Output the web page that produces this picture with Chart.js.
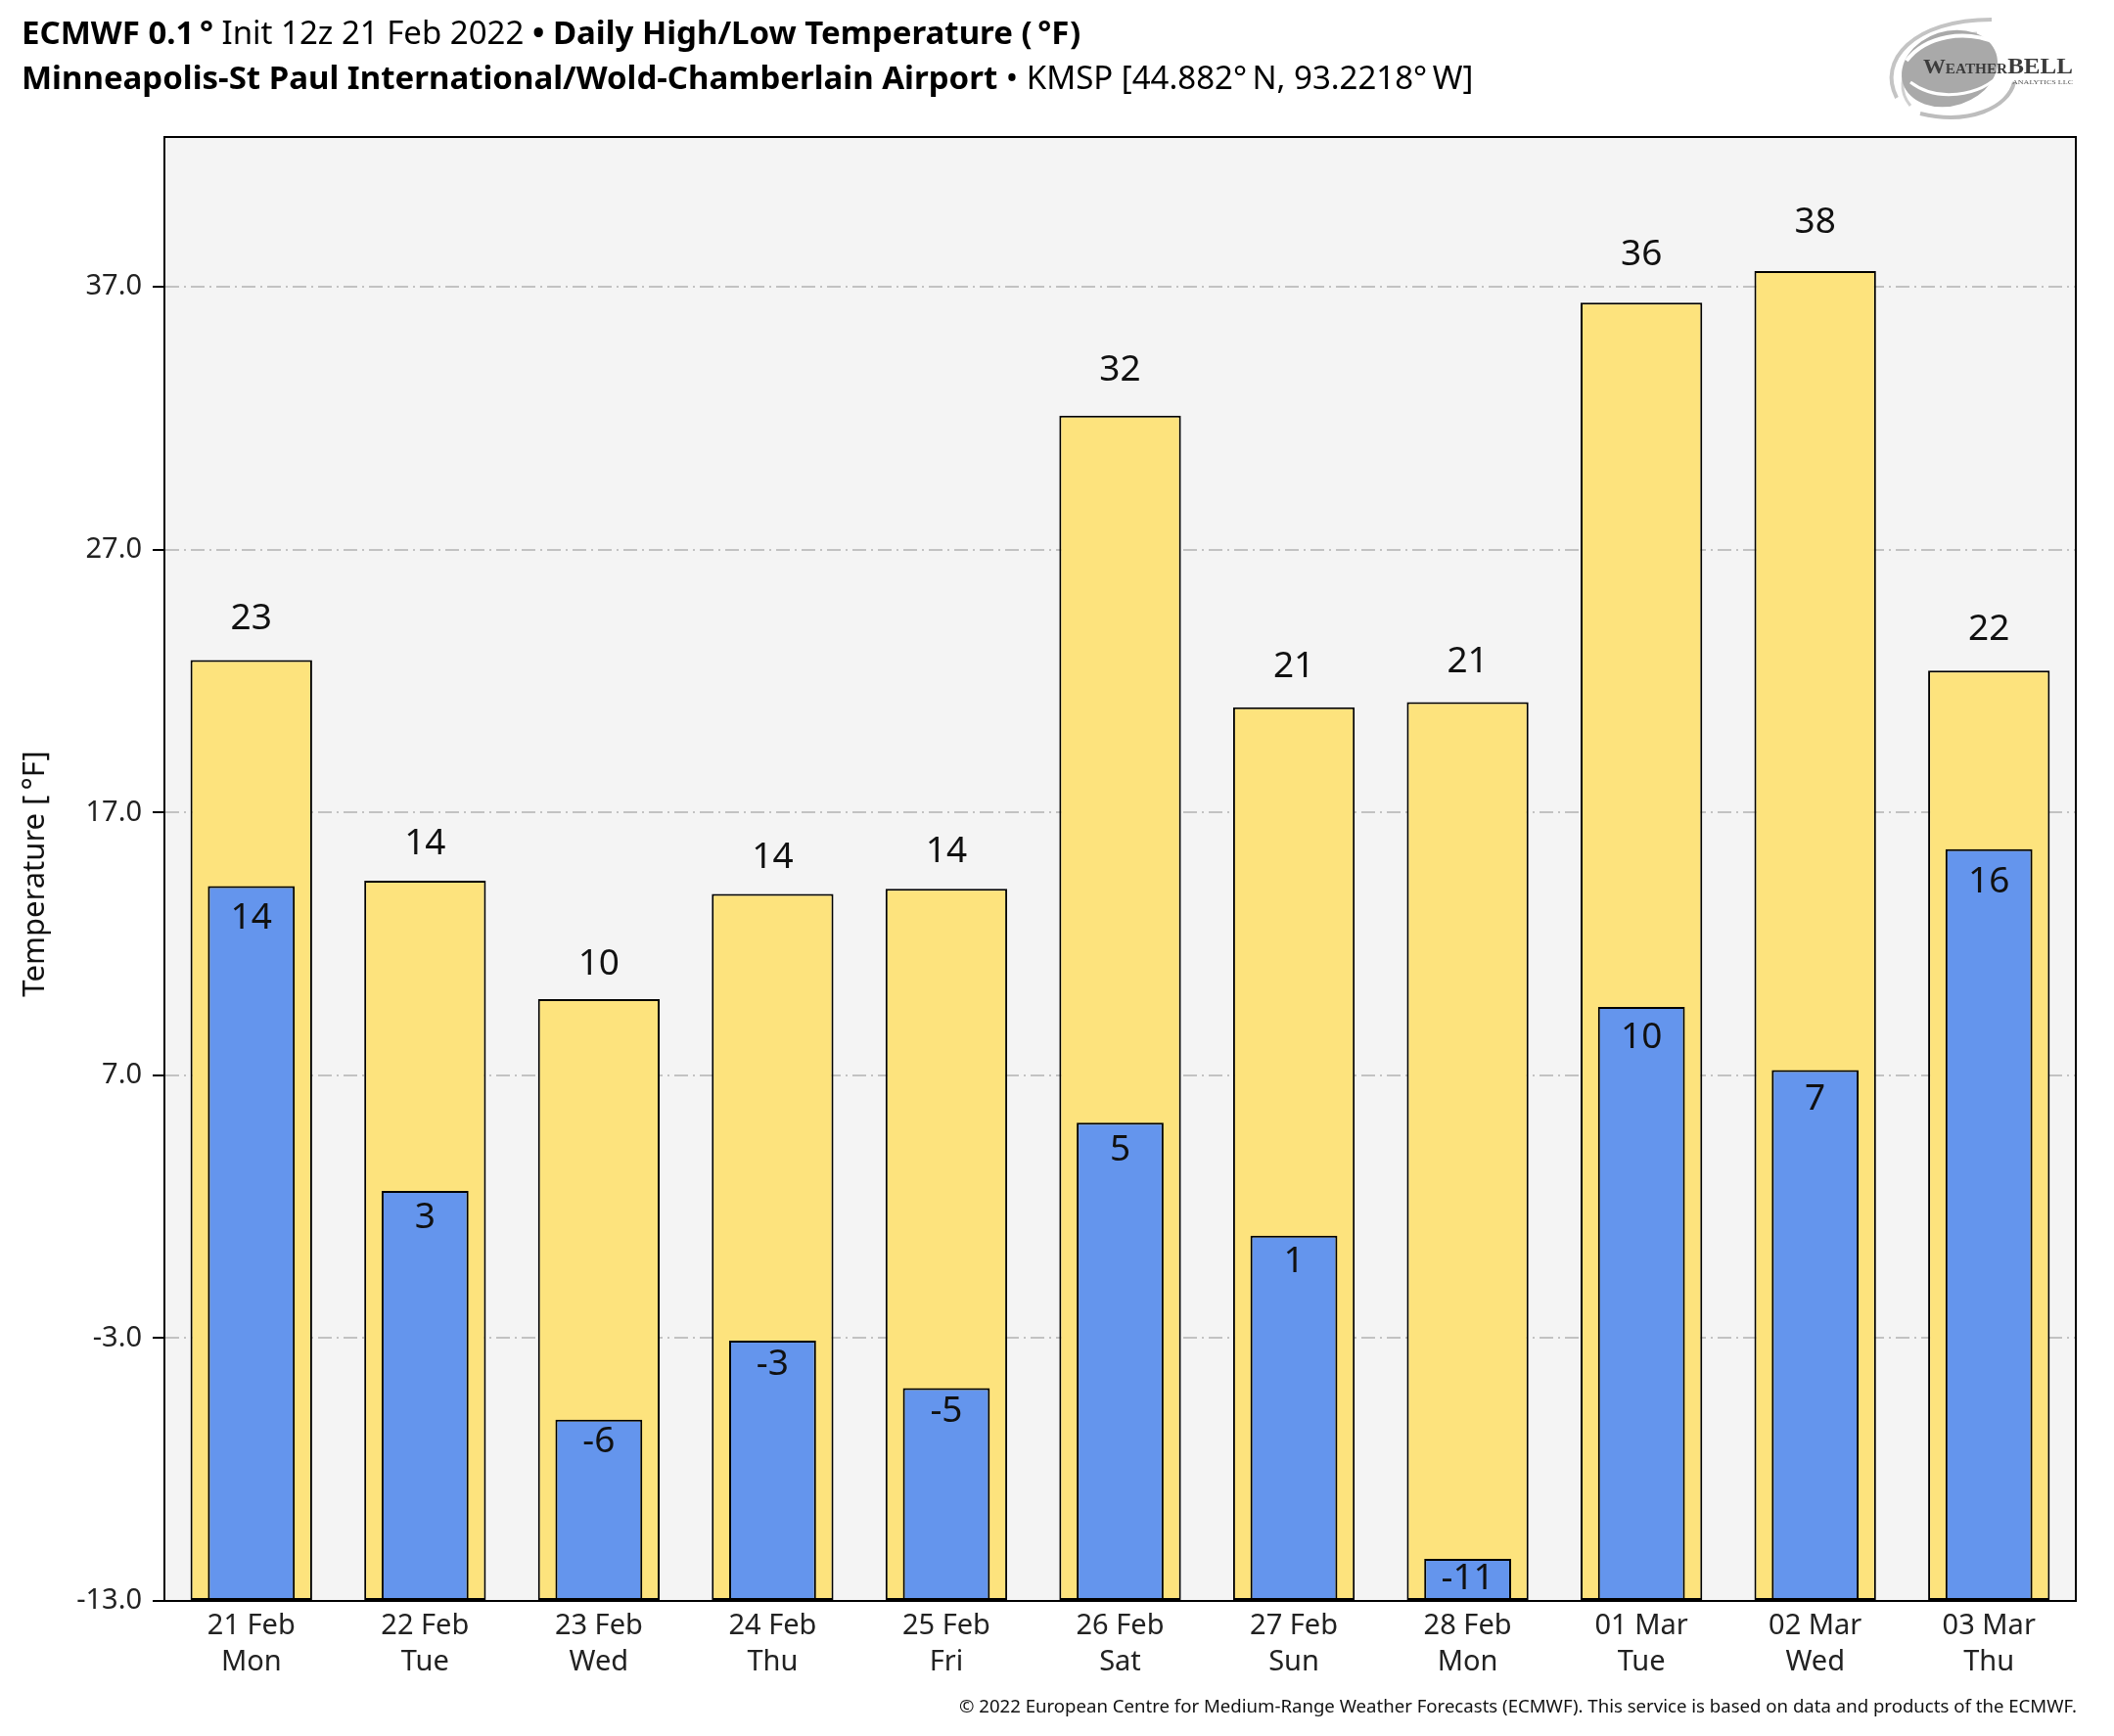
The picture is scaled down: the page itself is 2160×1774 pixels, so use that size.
<!DOCTYPE html>
<html>
<head>
<meta charset="utf-8">
<title>ECMWF Daily High/Low Temperature - KMSP</title>
<script src="https://cdn.jsdelivr.net/npm/chart.js@4.4.1/dist/chart.umd.min.js"></script>
<style>
  html, body { margin: 0; padding: 0; background: #fff; }
  #wrap { position: relative; width: 2160px; height: 1774px; }
  #logo { position: absolute; left: 1900px; top: 0; }
</style>
</head>
<body>
<div id="wrap">
  <canvas id="tempChart" width="2160" height="1774"></canvas>
  <svg id="logo" width="260" height="130" viewBox="0 0 260 130">
    <path d="M38,100 C18,62 55,20 135,20" fill="none" stroke="#c4c4c4" stroke-width="4"/>
    <path d="M52,108 C28,80 60,36 120,34" fill="none" stroke="#d0d0d0" stroke-width="3"/>
    <ellipse cx="92" cy="70" rx="50" ry="38" transform="rotate(-18 92 70)" fill="#a9a9a9"/>
    <path d="M48,62 C68,36 108,30 140,44" fill="none" stroke="#fff" stroke-width="4"/>
    <path d="M52,84 C78,104 122,100 146,74" fill="none" stroke="#fff" stroke-width="3"/>
    <path d="M62,116 C112,128 152,110 158,84" fill="none" stroke="#bdbdbd" stroke-width="4"/>
    <text x="65" y="75" font-family="Liberation Serif" font-weight="bold" fill="#3c3c3c" textLength="153" lengthAdjust="spacingAndGlyphs"><tspan font-size="21">W</tspan><tspan font-size="14">EATHER</tspan><tspan font-size="23">BELL</tspan></text>
    <text x="156" y="86" font-family="Liberation Serif" font-size="7" fill="#555" textLength="62" lengthAdjust="spacingAndGlyphs">ANALYTICS LLC</text>
  </svg>
</div>
<script>
// forecast days (x axis)
const dayLabels = [
  ['21 Feb', 'Mon'], ['22 Feb', 'Tue'], ['23 Feb', 'Wed'], ['24 Feb', 'Thu'],
  ['25 Feb', 'Fri'], ['26 Feb', 'Sat'], ['27 Feb', 'Sun'], ['28 Feb', 'Mon'],
  ['01 Mar', 'Tue'], ['02 Mar', 'Wed'], ['03 Mar', 'Thu']
];
// daily high / low in deg F
const highTemps = [22.8, 14.4, 9.9, 13.9, 14.1, 32.1, 21.0, 21.2, 36.4, 37.6, 22.4];
const lowTemps = [14.2, 2.6, -6.1, -3.1, -4.9, 5.2, 0.9, -11.4, 9.6, 7.2, 15.6];
// y axis
const yTicks = [-13, -3, 7, 17, 27, 37];
const yMin = -13;
const yMax = 42.7;

const FONT = '"Noto Sans", "Open Sans", sans-serif';

function drawRuns(ctx, runs, x, y, size) {
  runs.forEach(function (r) {
    ctx.font = (r[1] ? 'bold ' : '') + size + 'px ' + FONT;
    ctx.fillText(r[0], x, y);
    x += ctx.measureText(r[0]).width;
  });
}

const backgroundPlugin = {
  id: 'plotBackground',
  beforeDraw(chart) {
    const ctx = chart.ctx, a = chart.chartArea;
    ctx.save();
    ctx.fillStyle = '#ffffff';
    ctx.fillRect(0, 0, chart.width, chart.height);
    ctx.fillStyle = '#f4f4f4';
    ctx.fillRect(a.left, a.top, a.right - a.left, a.bottom - a.top);
    ctx.restore();
  }
};

const labelsPlugin = {
  id: 'barLabels',
  afterDatasetsDraw(chart) {
    const ctx = chart.ctx, a = chart.chartArea;
    const base = chart.scales.y.getPixelForValue(yMin);
    ctx.save();
    // frame around the plot
    ctx.strokeStyle = '#000';
    ctx.lineWidth = 2;
    ctx.strokeRect(a.left, a.top, a.right - a.left, a.bottom - a.top);
    ctx.fillStyle = '#111';
    ctx.font = '37px ' + FONT;
    ctx.textAlign = 'center';
    ctx.textBaseline = 'alphabetic';
    chart.data.datasets.forEach(function (ds, i) {
      chart.getDatasetMeta(i).data.forEach(function (bar, j) {
        const h = base - bar.y;
        const txt = String(Math.round(ds.data[j]));
        let cy;
        if (ds.label === 'High') {
          cy = bar.y - 26 - 0.019 * h;
        } else {
          cy = bar.y + 17 + 0.019 * h;
        }
        ctx.fillText(txt, bar.x, cy + 13);
      });
    });
    ctx.restore();
  }
};

const textPlugin = {
  id: 'pageText',
  afterDraw(chart) {
    const ctx = chart.ctx;
    ctx.save();
    ctx.fillStyle = '#000';
    ctx.textAlign = 'left';
    ctx.textBaseline = 'alphabetic';
    drawRuns(ctx, [
      ['ECMWF 0.1\u2009°', true], [' Init 12z 21 Feb 2022 ', false],
      ['• Daily High/Low Temperature (\u2009°F)', true]
    ], 22, 45, 33);
    drawRuns(ctx, [
      ['Minneapolis-St Paul International/Wold-Chamberlain Airport', true],
      [' • KMSP [44.882°\u2009N, 93.2218°\u2009W]', false]
    ], 22, 91, 33);

    // y axis title
    ctx.save();
    ctx.translate(36, 893);
    ctx.rotate(-Math.PI / 2);
    ctx.textAlign = 'center';
    ctx.textBaseline = 'middle';
    ctx.fillStyle = '#111';
    ctx.font = '31px ' + FONT;
    ctx.fillText('Temperature [\u2009°F]', 0, 0);
    ctx.restore();

    // footer
    ctx.textAlign = 'right';
    ctx.font = '18.6px ' + FONT;
    ctx.fillStyle = '#111';
    ctx.fillText('© 2022 European Centre for Medium-Range Weather Forecasts (ECMWF). This service is based on data and products of the ECMWF.', 2122, 1750);
    ctx.restore();
  }
};

const ctx = document.getElementById('tempChart');

new Chart(ctx, {
  type: 'bar',
  data: {
    labels: dayLabels,
    datasets: [
      {
        label: 'Low',
        data: lowTemps,
        base: yMin,
        backgroundColor: '#6495ed',
        borderColor: '#000',
        borderWidth: 2,
        borderSkipped: false,
        grouped: false,
        barPercentage: 0.5,
        categoryPercentage: 1
      },
      {
        label: 'High',
        data: highTemps,
        base: yMin,
        backgroundColor: '#fde37d',
        borderColor: '#000',
        borderWidth: 2,
        borderSkipped: false,
        grouped: false,
        barPercentage: 0.7,
        categoryPercentage: 1
      }
    ]
  },
  options: {
    responsive: false,
    animation: false,
    devicePixelRatio: 1,
    layout: { padding: { top: 140, right: 39, left: 0, bottom: 0 } },
    plugins: {
      legend: { display: false },
      tooltip: { enabled: false },
      title: { display: false }
    },
    scales: {
      x: {
        grid: { display: false, drawTicks: false },
        border: { display: true, color: '#000', width: 2 },
        ticks: {
          color: '#222',
          font: { family: FONT, size: 29, lineHeight: 1.27 },
          padding: 7,
          maxRotation: 0,
          autoSkip: false
        },
        afterFit(scale) { scale.height = 138; }
      },
      y: {
        min: yMin,
        max: yMax,
        grid: {
          color: '#c2c2c2',
          lineWidth: 2,
          tickColor: '#000',
          tickLength: 12,
          tickWidth: 2,
          tickBorderDash: []
        },
        border: { display: true, color: '#000', width: 2, dash: [14, 5, 2, 5] },
        ticks: {
          color: '#222',
          font: { family: FONT, size: 29 },
          padding: 11,
          callback: function (v) { return Number(v).toFixed(1); }
        },
        afterBuildTicks(scale) {
          scale.ticks = yTicks.map(function (v) { return { value: v }; });
        },
        afterFit(scale) { scale.width = 168; }
      }
    }
  },
  plugins: [backgroundPlugin, labelsPlugin, textPlugin]
});
</script>
</body>
</html>
